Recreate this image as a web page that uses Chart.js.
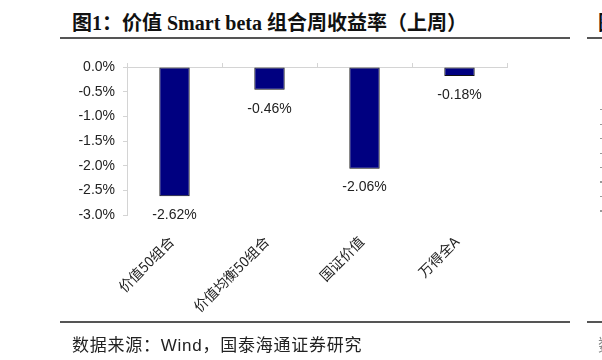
<!DOCTYPE html>
<html>
<head>
<meta charset="utf-8">
<script src="https://cdn.jsdelivr.net/npm/chart.js@4/dist/chart.umd.min.js"></script>
<style>
  html, body { margin: 0; padding: 0; background: #fff; width: 602px; height: 360px; overflow: hidden; position: relative; }
  #c { position: absolute; left: 0; top: 0; }
  .title { position: absolute; left: 72px; top: 7px; font-family: "Liberation Serif", "Noto Sans CJK SC", serif; font-weight: bold; font-size: 20px; color: #111; white-space: nowrap; }
  .rule { position: absolute; height: 2px; background: #555; }
  .source { position: absolute; left: 72px; top: 331px; font-family: "Liberation Sans", "Noto Sans CJK SC", sans-serif; font-size: 17px; letter-spacing: 0.75px; color: #222; white-space: nowrap; }
  .edge { position: absolute; left: 598px; font-family: "Noto Sans CJK SC", sans-serif; white-space: nowrap; }
  .dots { position: absolute; left: 600px; top: 109px; width: 2px; height: 104px; background: repeating-linear-gradient(to bottom, #999 0px, #999 1px, transparent 1px, transparent 14.5px); }
</style>
</head>
<body>
<div class="title">图1：价值 Smart beta 组合周收益率（上周）</div>
<div class="rule" style="left:60px; top:37px; width:510px;"></div>
<div class="rule" style="left:587px; top:37px; width:15px;"></div>
<div class="edge" style="top:7px; font-size:20px; font-weight:bold; color:#111;">图</div>
<div class="dots"></div>
<canvas id="c" width="602" height="360"></canvas>
<div class="rule" style="left:60px; top:321px; width:510px;"></div>
<div class="rule" style="left:587px; top:321px; width:15px;"></div>
<div class="source">数据来源：Wind，国泰海通证券研究</div>
<div class="edge" style="top:331px; font-size:17px; color:#888;">数</div>
<script>
const categories = ['价值50组合', '价值均衡50组合', '国证价值', '万得全A'];
const returns = [-2.62, -0.46, -2.06, -0.18];
const yTicks = { min: -3.0, max: 0.0, step: 0.5 };

const axisGray = '#d4d4d4';
const labelFont = { family: '"Liberation Sans", Arial, "Noto Sans CJK SC", sans-serif', size: 14 };

const valueLabels = {
  id: 'valueLabels',
  afterDatasetsDraw(chart) {
    const ctx = chart.ctx;
    const meta = chart.getDatasetMeta(0);
    ctx.save();
    ctx.font = '14px "Liberation Sans", Arial, sans-serif';
    ctx.fillStyle = '#222';
    ctx.textAlign = 'center';
    ctx.textBaseline = 'middle';
    meta.data.forEach((bar, i) => {
      const v = chart.data.datasets[0].data[i];
      ctx.fillText(v.toFixed(2) + '%', bar.x, bar.y + 19);
    });
    ctx.restore();
  }
};

new Chart(document.getElementById('c'), {
  type: 'bar',
  data: {
    labels: categories,
    datasets: [{
      data: returns,
      backgroundColor: '#000080',
      borderColor: '#111',
      borderWidth: 1,
      borderSkipped: false,
      categoryPercentage: 1.0,
      barPercentage: 0.32
    }]
  },
  options: {
    responsive: false,
    devicePixelRatio: 1,
    animation: false,
    layout: { padding: { left: 0, right: 95, top: 63, bottom: 0 } },
    plugins: { legend: { display: false }, tooltip: { enabled: false }, title: { display: false } },
    scales: {
      x: {
        position: 'bottom',
        offset: true,
        grid: { display: false },
        border: { display: false },
        ticks: {
          autoSkip: false,
          maxRotation: 45,
          minRotation: 45,
          padding: 10,
          labelOffset: -3,
          color: '#222',
          font: { family: '"Noto Sans CJK SC", "Liberation Sans", sans-serif', size: 14 }
        },
        afterFit(s) { s.height = 145; }
      },
      x2: {
        type: 'category',
        position: 'top',
        offset: true,
        grid: { display: true, offset: true, drawOnChartArea: false, drawTicks: true, tickLength: 4, color: axisGray, lineWidth: 1 },
        border: { display: true, color: axisGray, width: 1 },
        ticks: { display: false },
        afterFit(s) { s.height = 4; }
      },
      y: {
        min: yTicks.min,
        max: yTicks.max,
        grid: { display: true, drawOnChartArea: false, drawTicks: true, tickLength: 4, color: axisGray },
        border: { display: true, color: axisGray, width: 1 },
        ticks: {
          stepSize: yTicks.step,
          padding: 8,
          color: '#222',
          font: labelFont,
          callback: (v) => (Math.abs(v) < 1e-9 ? 0 : v).toFixed(1) + '%'
        },
        afterFit(s) { s.width = 127; }
      }
    }
  },
  plugins: [valueLabels]
});
</script>
</body>
</html>
